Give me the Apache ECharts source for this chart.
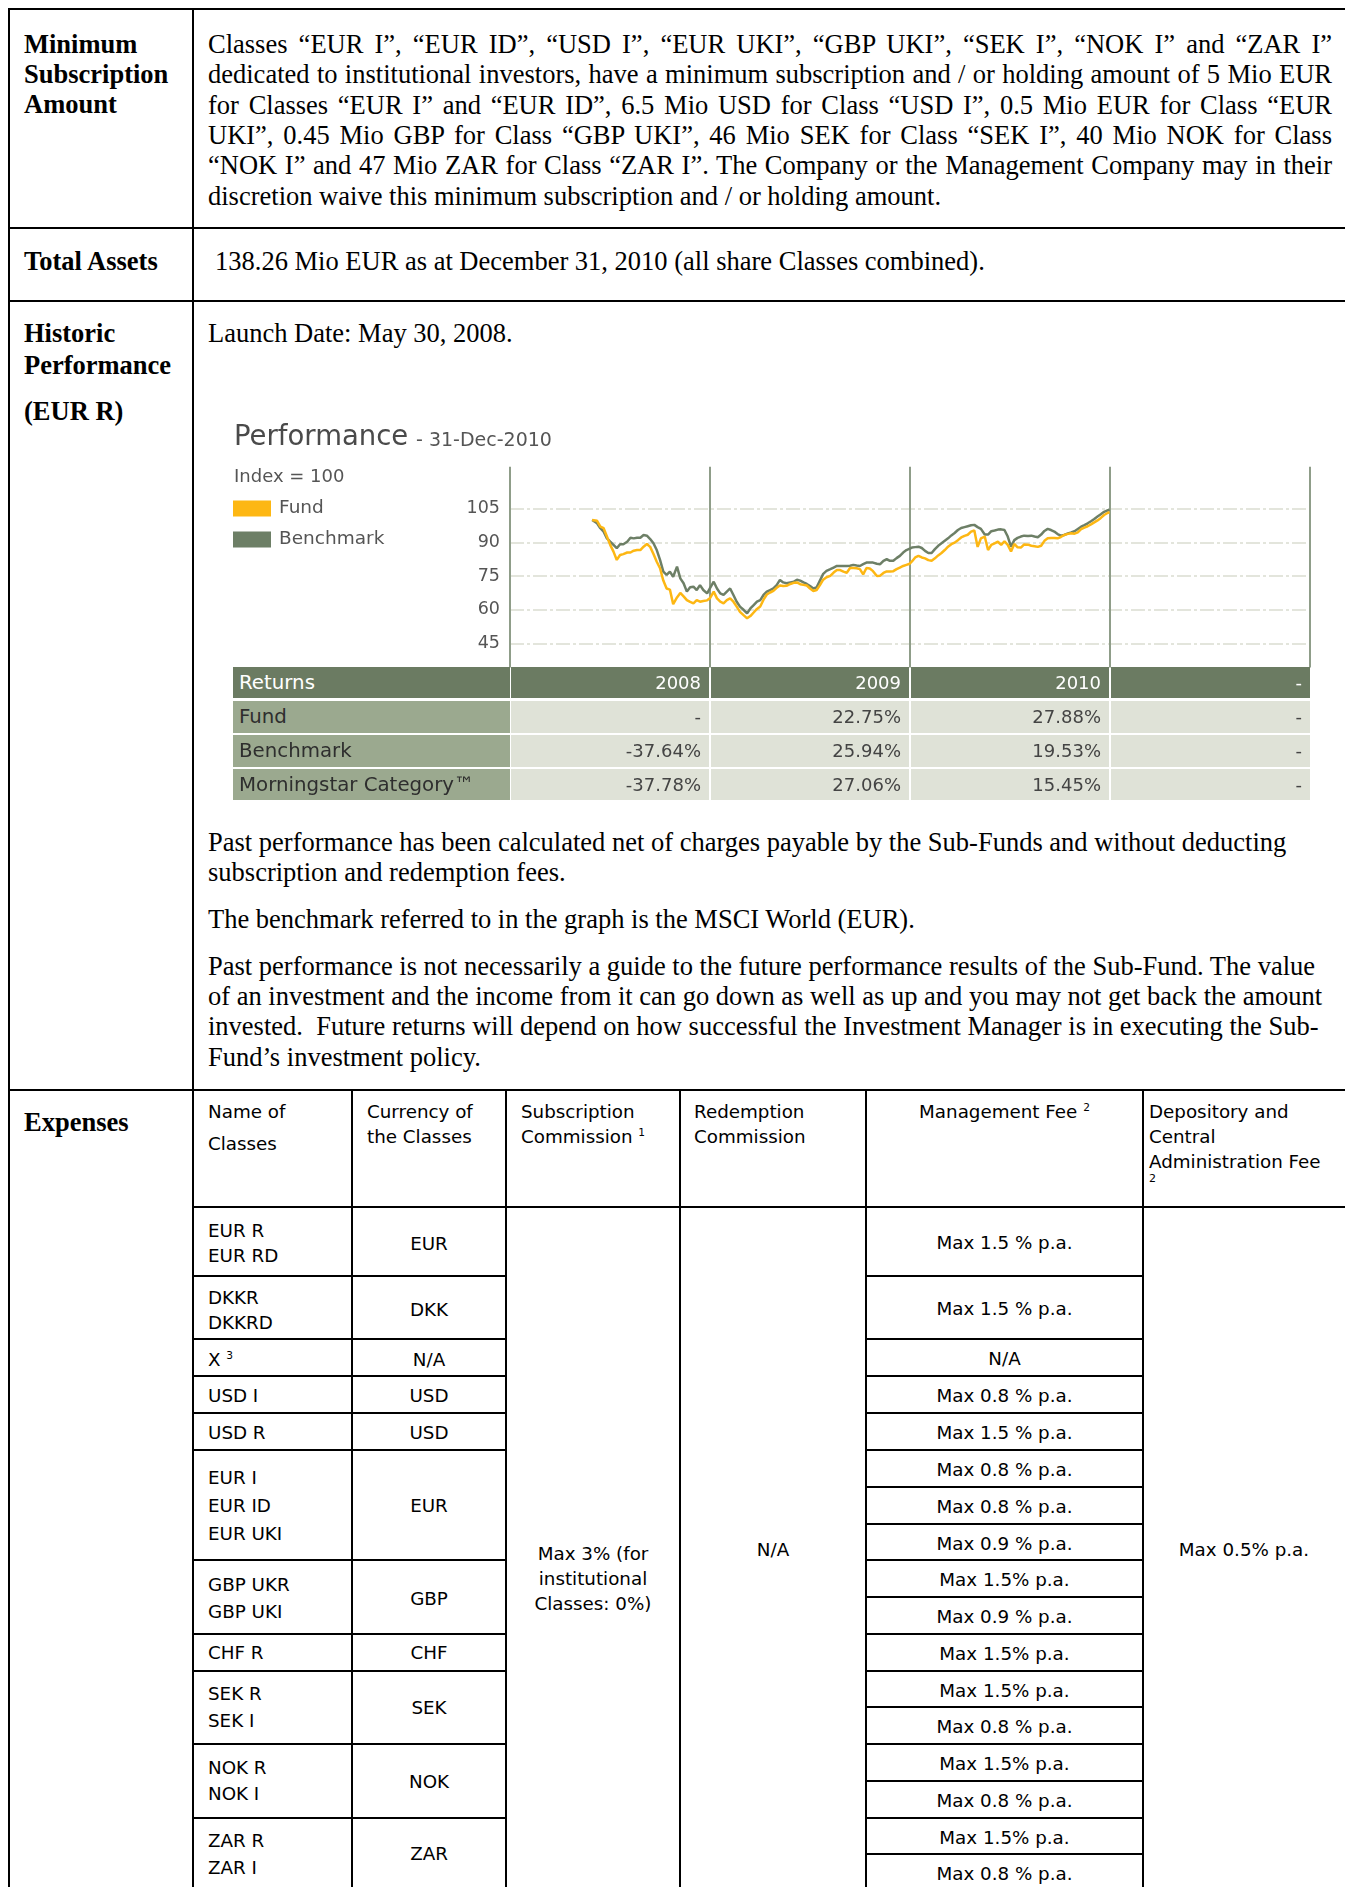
<!DOCTYPE html>
<html><head><meta charset="utf-8">
<script src="https://cdn.jsdelivr.net/npm/echarts@6/dist/echarts.min.js"></script>
<style>
html,body{margin:0;padding:0;background:#fff;}
body{width:1345px;height:1887px;position:relative;overflow:hidden;}
.a{position:absolute;white-space:nowrap;}
.s{font-family:'Liberation Serif','Times New Roman',serif;font-size:26.5px;line-height:30px;color:#000;}
.b{font-weight:bold;}
.n{font-family:'DejaVu Sans',sans-serif;font-size:18.3px;line-height:25px;color:#000;}
.h{position:absolute;height:2px;background:#000;}
.v{position:absolute;width:2px;background:#000;}
.j{text-align:justify;text-align-last:justify;white-space:normal;}
.c{text-align:center;}
sup{font-size:58%;line-height:0;vertical-align:0.7em;}
.rc{position:absolute;box-sizing:border-box;font-family:'DejaVu Sans',sans-serif;white-space:nowrap;overflow:hidden;}
</style></head><body>
<div id="doc"></div>
<div id="chart" style="position:absolute;left:220px;top:410px;width:1100px;height:262px;"></div>
<div id="ret"></div>
<script>
// ---------- chart data ----------
const dates = [
'2008-05-30','2008-06-08','2008-06-14','2008-06-20','2008-06-26','2008-07-02','2008-07-08','2008-07-14','2008-07-20','2008-07-26',
'2008-08-02','2008-08-08','2008-08-14','2008-08-20','2008-08-26','2008-09-01','2008-09-07','2008-09-13','2008-09-19','2008-09-25',
'2008-10-01','2008-10-07','2008-10-13','2008-10-19','2008-10-25','2008-11-01','2008-11-07','2008-11-13','2008-11-19','2008-11-25',
'2008-12-01','2008-12-07','2008-12-13','2008-12-19','2008-12-26','2008-12-31',
'2009-01-07','2009-01-13','2009-01-19','2009-01-25','2009-01-31','2009-02-06','2009-02-12','2009-02-18','2009-02-24','2009-03-03',
'2009-03-09','2009-03-15','2009-03-21','2009-03-27','2009-04-02','2009-04-08','2009-04-14','2009-04-20','2009-04-26','2009-05-02',
'2009-05-08','2009-05-14','2009-05-20','2009-05-27','2009-06-02','2009-06-08','2009-06-14','2009-06-20','2009-06-26','2009-07-02',
'2009-07-08','2009-07-14','2009-07-20','2009-07-26','2009-08-01','2009-08-08','2009-08-14','2009-08-20','2009-08-26','2009-09-01',
'2009-09-07','2009-09-13','2009-09-19','2009-09-25','2009-10-01','2009-10-07','2009-10-13','2009-10-19','2009-10-25','2009-11-01',
'2009-11-07','2009-11-13','2009-11-19','2009-11-25','2009-12-01','2009-12-07','2009-12-13','2009-12-19','2009-12-25','2009-12-31',
'2010-01-04','2010-01-10','2010-01-16','2010-01-22','2010-01-28','2010-02-03','2010-02-09','2010-02-15','2010-02-21','2010-02-27',
'2010-03-05','2010-03-11','2010-03-17','2010-03-23','2010-03-29','2010-04-04','2010-04-10','2010-04-16','2010-04-22','2010-04-28',
'2010-05-04','2010-05-10','2010-05-17','2010-05-23','2010-05-29','2010-06-04','2010-06-10','2010-06-16','2010-06-22','2010-06-28',
'2010-07-04','2010-07-10','2010-07-16','2010-07-22','2010-07-28','2010-08-04','2010-08-10','2010-08-16','2010-08-22','2010-08-28',
'2010-09-03','2010-09-09','2010-09-15','2010-09-21','2010-09-27','2010-10-03','2010-10-09','2010-10-16','2010-10-22','2010-10-28',
'2010-11-03','2010-11-09','2010-11-15','2010-11-21','2010-11-27','2010-12-03','2010-12-09','2010-12-15','2010-12-21','2010-12-28',
'2010-12-31'
];
const fundValues = [
100,99.6,97,96.3,92.6,88.9,85.9,82.2,84.4,84.8,
85.5,85.5,86.3,86.6,86.6,88.1,89.3,88.0,84.8,81.4,
78.5,73.0,69.5,69.0,62.5,65.5,67.5,66.0,64.3,63.5,
62.9,64.3,63.6,63.9,64.2,65.1,
68.1,65.1,63.6,62.9,64.3,65.1,63.6,61.4,59.1,57.5,
56.2,57.2,58.8,60.4,61.5,64.5,66.8,67.7,68.4,69.8,
70.8,70.6,70.7,71.5,72.0,72.2,71.4,71.1,70.8,69.5,
68.4,68.8,71.0,73.4,74.5,75.1,76.6,77.7,77.7,77.0,
76.5,78.6,78.6,78.5,78.1,75.8,78.6,78.4,77.2,75.0,
75.2,76.4,77.1,77.0,77.2,78.1,78.8,79.5,80.0,80.5,
81.5,83.3,84.0,83.3,82.9,82.1,81.8,82.9,84.2,85.3,
86.6,88.1,89.2,89.9,91.0,92.2,92.9,93.4,94.8,95.3,
88.0,91.8,92.6,86.6,88.9,89.6,90.3,88.9,90.5,88.9,
86.0,89.3,87.8,87.7,89.1,89.0,88.5,88.3,88.0,88.5,
90.7,91.8,92.0,92.0,91.8,92.4,93.3,93.8,94.1,93.9,
94.5,95.9,96.6,97.2,98.0,98.9,99.8,100.9,102.2,103.2,
103.4
];
const benchValues = [
100,98.5,96.3,94.8,91.8,90.3,88.9,87.4,89.2,89.2,
90.3,92.1,91.8,92.1,92.1,93.3,93.0,91.5,89.6,86.6,
82.2,77.0,75.5,77.0,74.7,79.2,74.0,71.8,68.1,70.0,
70.3,68.8,71.0,68.8,67.3,69.5,
72.5,69.5,67.3,66.6,68.1,69.5,66.6,63.6,61.4,59.9,
58.4,60.6,62.1,63.6,64.3,66.6,68.1,68.8,69.5,71.0,
73.3,72.2,71.8,72.2,72.5,73.4,73.0,72.2,71.5,70.6,
69.5,70.0,73.0,76.0,77.3,78.1,78.8,79.5,79.5,79.5,
79.5,79.6,80.0,79.7,79.5,80.3,81.0,81.0,81.0,80.5,
80.3,81.8,82.5,81.8,81.8,83.0,84.0,85.5,86.6,87.2,
87.7,87.9,88.1,87.5,86.2,85.3,85.3,87.0,88.5,89.6,
90.7,91.8,93.1,94.2,95.5,96.4,96.8,97.2,97.6,97.8,
96.8,96.0,93.5,93.5,95.0,95.3,95.7,95.8,95.5,92.6,
88.1,91.0,92.0,92.6,93.0,92.9,93.0,92.6,92.3,93.5,
95.1,96.0,95.5,94.8,93.7,93.0,93.3,94.0,94.4,95.0,
96.0,97.0,97.7,98.5,99.4,100.4,101.5,102.5,103.6,104.3,
104.5
];
const yMin = 45, yMax = 105, yStep = 15;
const yearBounds = [2008, 2012];
const seriesNames = ['Fund','Benchmark'];

// ---------- returns table data ----------
const returnHeaders = ['Returns','2008','2009','2010','-'];
const returnLabels = ['Fund','Benchmark','Morningstar Category\u2122'];
const fundReturns = ['-','22.75%','27.88%','-'];
const benchReturns = ['-37.64%','25.94%','19.53%','-'];
const categoryReturns = ['-37.78%','27.06%','15.45%','-'];

// ---------- document ----------
const doc = document.getElementById('doc');
function add(h){ doc.insertAdjacentHTML('beforeend', h); }
function hl(x1,x2,y){ add(`<div class="h" style="left:${x1}px;width:${x2-x1}px;top:${y-1}px"></div>`); }
function vl(x,y1,y2){ add(`<div class="v" style="left:${x-1}px;top:${y1}px;height:${y2-y1}px"></div>`); }
function t(cls,x,cy,lh,s){ add(`<div class="a ${cls}" style="left:${x}px;top:${cy-lh/2}px">${s}</div>`); }
function tj(x,w,cy,s){ add(`<div class="a s j" style="left:${x}px;width:${w}px;top:${cy-15}px">${s}</div>`); }
function tc(cls,x1,x2,cy,lh,s){ add(`<div class="a ${cls} c" style="left:${x1}px;width:${x2-x1}px;top:${cy-lh/2}px">${s}</div>`); }

// borders
hl(8,1345,9); vl(9,8,1887); vl(193,8,1887);
hl(8,1345,228); hl(8,1345,301); hl(8,1345,1090); hl(193,1345,1207);
[352,506,680,866,1143].forEach(x=>vl(x,1090,1887));
[1276,1339,1376,1413,1450,1560,1634,1671,1744,1818].forEach(y=>hl(193,506,y));
[1276,1339,1376,1413,1450,1487,1524,1560,1597,1634,1671,1707,1744,1781,1818,1854].forEach(y=>hl(866,1143,y));

// row labels
t('s b',24,44,30,'Minimum'); t('s b',24,74,30,'Subscription'); t('s b',24,104,30,'Amount');
t('s b',24,261,30,'Total Assets');
t('s b',24,333,30,'Historic'); t('s b',24,364.5,30,'Performance'); t('s b',24,411,30,'(EUR R)');
t('s b',24,1122,30,'Expenses');

// row 1 text
const L1 = [
'Classes \u201CEUR I\u201D, \u201CEUR ID\u201D, \u201CUSD I\u201D, \u201CEUR UKI\u201D, \u201CGBP UKI\u201D, \u201CSEK I\u201D, \u201CNOK I\u201D and \u201CZAR I\u201D',
'dedicated to institutional investors, have a minimum subscription and / or holding amount of 5 Mio EUR',
'for Classes \u201CEUR I\u201D and \u201CEUR ID\u201D, 6.5 Mio USD for Class \u201CUSD I\u201D, 0.5 Mio EUR for Class \u201CEUR',
'UKI\u201D, 0.45 Mio GBP for Class \u201CGBP UKI\u201D, 46 Mio SEK for Class \u201CSEK I\u201D, 40 Mio NOK for Class',
'\u201CNOK I\u201D and 47 Mio ZAR for Class \u201CZAR I\u201D. The Company or the Management Company may in their'
];
L1.forEach((s,i)=>tj(208,1124,44+i*30.3,s));
t('s',208,44+5*30.3,30,'discretion waive this minimum subscription and / or holding amount.');
t('s',215,261,30,'138.26 Mio EUR as at December 31, 2010 (all share Classes combined).');
t('s',208,333,30,'Launch Date: May 30, 2008.');
t('s',208,842,30,'Past performance has been calculated net of charges payable by the Sub-Funds and without deducting');
t('s',208,872,30,'subscription and redemption fees.');
t('s',208,919,30,'The benchmark referred to in the graph is the MSCI World (EUR).');
t('s',208,966,30,'Past performance is not necessarily a guide to the future performance results of the Sub-Fund. The value');
t('s',208,996,30,'of an investment and the income from it can go down as well as up and you may not get back the amount');
t('s',208,1026,30,'invested.&nbsp; Future returns will depend on how successful the Investment Manager is in executing the Sub-');
t('s',208,1057,30,'Fund\u2019s investment policy.');

// expenses header
t('n',208,1111,25,'Name of'); t('n',208,1143,25,'Classes');
t('n',367,1111,25,'Currency of'); t('n',367,1136,25,'the Classes');
t('n',521,1111,25,'Subscription'); t('n',521,1136,25,'Commission <sup>1</sup>');
t('n',694,1111,25,'Redemption'); t('n',694,1136,25,'Commission');
tc('n',866,1143,1111,25,'Management Fee <sup>2</sup>');
t('n',1149,1111,25,'Depository and'); t('n',1149,1136,25,'Central'); t('n',1149,1161,25,'Administration Fee');
add('<div class="a n" style="left:1149px;top:1172px;font-size:11px;line-height:14px">2</div>');

// expenses body
const names = [['EUR R',1230],['EUR RD',1255],['DKKR',1297],['DKKRD',1322],['X <sup>3</sup>',1359],['USD I',1395],['USD R',1432],
['EUR I',1477],['EUR ID',1505],['EUR UKI',1533],['GBP UKR',1584],['GBP UKI',1611],['CHF R',1652],['SEK R',1693],['SEK I',1720],
['NOK R',1767],['NOK I',1793],['ZAR R',1840],['ZAR I',1867]];
names.forEach(([s,y])=>t('n',208,y,25,s));
const curr = [['EUR',1243],['DKK',1309],['N/A',1359],['USD',1395],['USD',1432],['EUR',1505],['GBP',1598],['CHF',1652],['SEK',1707],['NOK',1781],['ZAR',1853]];
curr.forEach(([s,y])=>tc('n',352,506,y,25,s));
const mg = [[1207,1276,'Max 1.5 % p.a.'],[1276,1339,'Max 1.5 % p.a.'],[1339,1376,'N/A'],[1376,1413,'Max 0.8 % p.a.'],[1413,1450,'Max 1.5 % p.a.'],
[1450,1487,'Max 0.8 % p.a.'],[1487,1524,'Max 0.8 % p.a.'],[1524,1560,'Max 0.9 % p.a.'],[1560,1597,'Max 1.5% p.a.'],[1597,1634,'Max 0.9 % p.a.'],
[1634,1671,'Max 1.5% p.a.'],[1671,1707,'Max 1.5% p.a.'],[1707,1744,'Max 0.8 % p.a.'],[1744,1781,'Max 1.5% p.a.'],[1781,1818,'Max 0.8 % p.a.'],
[1818,1854,'Max 1.5% p.a.'],[1854,1891,'Max 0.8 % p.a.']];
mg.forEach(([a,b,s])=>tc('n',866,1143,(a+b)/2+1,25,s));
tc('n',506,680,1553,25,'Max 3% (for'); tc('n',506,680,1578,25,'institutional'); tc('n',506,680,1603,25,'Classes: 0%)');
tc('n',680,866,1549,25,'N/A');
tc('n',1143,1345,1549,25,'Max 0.5% p.a.');

// ---------- returns table ----------
const rt = document.getElementById('ret');
const colL=[233,511,711,911,1111], colW=[277,198,198,198,199];
const rowT=[667,701,735,769], rowH=[31,32,32,31];
const rows=[returnHeaders,[returnLabels[0]].concat(fundReturns),[returnLabels[1]].concat(benchReturns),[returnLabels[2]].concat(categoryReturns)];
let rh='';
rows.forEach((r,ri)=>r.forEach((v,ci)=>{
  const head=ri===0, lab=ci===0;
  const bg=head?'#6B7B62':(lab?'#9BA98F':'#DFE2D7');
  const col=head?'#fff':(lab?'#2e2e2e':'#444');
  const al=lab?'left':'right';
  const pad=lab?'padding-left:6px':'padding-right:8px';
  const fs=lab?'19.8px':'18px';
  rh+=`<div class="rc" style="left:${colL[ci]}px;top:${rowT[ri]}px;width:${colW[ci]}px;height:${rowH[ri]}px;line-height:${rowH[ri]}px;font-size:${fs};background:${bg};color:${col};text-align:${al};${pad}">${v}</div>`;
}));
rt.innerHTML=rh;

// ---------- chart ----------
const F = "'DejaVu Sans', sans-serif";
const chart = echarts.init(document.getElementById('chart'));
chart.setOption({
  animation:false,
  title:[
    {text:'Performance', left:14, top:13, padding:0, textStyle:{fontFamily:F,fontSize:27.5,fontWeight:'normal',color:'#4a4a4a',lineHeight:30}},
    {text:'- 31-Dec-2010', left:196, top:21, padding:0, textStyle:{fontFamily:F,fontSize:19,fontWeight:'normal',color:'#555',lineHeight:20}},
    {text:'Index = 100', left:14, top:57, padding:0, textStyle:{fontFamily:F,fontSize:18,fontWeight:'normal',color:'#555',lineHeight:20}}
  ],
  legend:{orient:'vertical', left:13, top:89, itemWidth:38, itemHeight:16, itemGap:12, icon:'rect', padding:0,
    textStyle:{fontFamily:F,fontSize:18.5,color:'#555',padding:[0,0,0,3]}, data:seriesNames},
  grid:[{left:290, top:98.7, width:800, height:134.8},{left:290, top:56.7, width:800, height:200.8}],
  xAxis:[
    {type:'time', gridIndex:0, min:new Date(yearBounds[0],0,1).getTime(), max:new Date(yearBounds[1],0,1).getTime(), show:false},
    {type:'value', gridIndex:1, min:yearBounds[0], max:yearBounds[1], interval:1, axisLine:{show:false}, axisTick:{show:false}, axisLabel:{show:false},
      splitLine:{show:true, lineStyle:{color:'#8F9D89', width:2}}}
  ],
  yAxis:[
    {type:'value', gridIndex:0, min:yMin, max:yMax, interval:yStep, axisLine:{show:false}, axisTick:{show:false},
      axisLabel:{fontFamily:F, fontSize:17.5, color:'#555', margin:10},
      splitLine:{show:true, lineStyle:{color:'#E3E5DC', width:2, type:[14,3,3,3]}}},
    {type:'value', gridIndex:1, min:0, max:1, show:false}
  ],
  series:[
    {name:'Benchmark', type:'line', xAxisIndex:0, yAxisIndex:0, showSymbol:false, data:dates.map((d,i)=>[d,benchValues[i]]),
      lineStyle:{color:'#6D7F66', width:2.5}, itemStyle:{color:'#6D7F66'}},
    {name:'Fund', type:'line', xAxisIndex:0, yAxisIndex:0, showSymbol:false, data:dates.map((d,i)=>[d,fundValues[i]]),
      lineStyle:{color:'#FDB713', width:2.5}, itemStyle:{color:'#FDB713'}},
    {type:'line', xAxisIndex:1, yAxisIndex:1, data:[], silent:true}
  ]
});
</script>
</body></html>
